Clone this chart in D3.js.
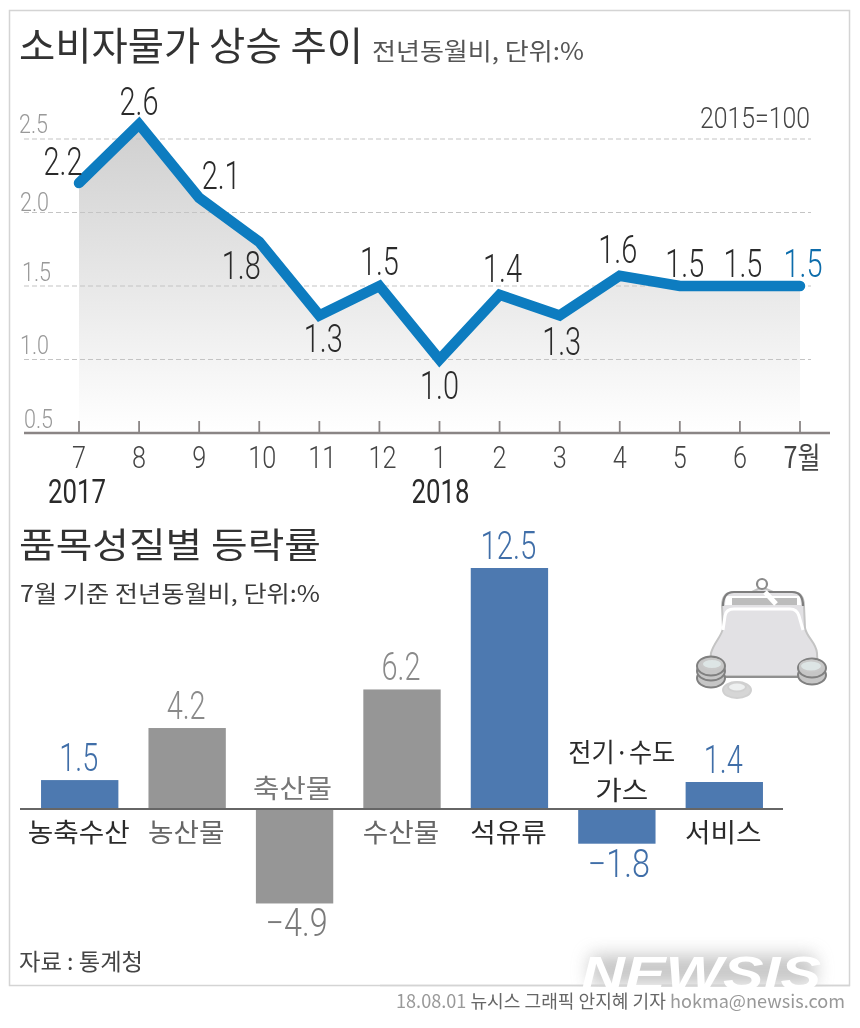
<!DOCTYPE html>
<html><head><meta charset="utf-8">
<script src="https://cdn.jsdelivr.net/npm/d3@7/dist/d3.min.js"></script>
<style>html,body{margin:0;padding:0;background:#fff}svg{display:block}text{font-family:"Noto Sans CJK KR","Noto Sans",sans-serif}</style>
</head><body><svg id="c" width="860" height="1028"></svg>
<script>
const months=["7","8","9","10","11","12","1","2","3","4","5","6","7월"];
// printed labels, as written in the picture
const cpiLabels=[2.2,2.6,2.1,1.8,1.3,1.5,1.0,1.4,1.3,1.6,1.5,1.5,1.5];
// line heights as drawn in the picture (the source plots Feb and Apr 2018 slightly off their printed labels)
const cpiDrawn=[2.2,2.6,2.1,1.8,1.3,1.5,1.0,1.44,1.3,1.57,1.5,1.5,1.5];
const yTicks=[0.5,1.0,1.5,2.0,2.5];
const yearLabels=[{i:0,t:"2017",d:-2},{i:6,t:"2018",d:1}];
const cats=["농축수산","농산물","축산물","수산물","석유류","전기·수도\n가스","서비스"];
const vals=[1.5,4.2,-4.9,6.2,12.5,-1.8,1.4];
const barColors=["#4d79b0","#969696","#969696","#969696","#4d79b0","#4d79b0","#4d79b0"];
const valColors=["#3f6ea8","#8a8a8a","#7a7a7a","#8a8a8a","#3f6ea8","#3f6ea8","#3f6ea8"];
const catColors=["#2b2b2b","#666","#777","#666","#2b2b2b","#2b2b2b","#2b2b2b"];
const labelOffsets=[[-16,-8],[0,-9],[22,-9],[-18,37],[4,37],[0,-11],[0,39],[3,-13],[2,40],[-2,-13],[5,-9],[3,-9],[3,-9]];
const tickBaseOffset=[-5,-6,-5,-2,-6];
const tickX=[24,20,22,20,19];

const svg=d3.select("#c");
const defs=svg.append("defs");
const root=svg.append("g").attr("filter","url(#soft)");
defs.append("filter").attr("id","soft").attr("x",0).attr("y",0).attr("width",1).attr("height",1)
  .append("feGaussianBlur").attr("stdDeviation",0.6);
const grad=defs.append("linearGradient").attr("id","fade").attr("x1",0).attr("x2",0).attr("y1",0).attr("y2",1);
grad.append("stop").attr("offset",0).attr("stop-color","#cfcfcf");
grad.append("stop").attr("offset",1).attr("stop-color","#ffffff");
const wm=defs.append("filter").attr("id","glow").attr("x","-20%").attr("y","-60%").attr("width","140%").attr("height","220%");
wm.append("feGaussianBlur").attr("stdDeviation",9);

root.append("rect").attr("width",860).attr("height",1028).attr("fill","#fff");
root.append("rect").attr("x",9.5).attr("y",10.5).attr("width",840).attr("height",975)
  .attr("fill","#fff").attr("stroke","#d4d4d4").attr("stroke-width",1.5);

const t=(x,y,s,size,fill,anchor,extra)=>{const e=root.append("text").attr("x",x).attr("y",y).text(s)
  .attr("font-size",size).attr("fill",fill).attr("text-anchor",anchor||"start");
  if(extra)Object.entries(extra).forEach(([k,v])=>e.attr(k,v));return e;};
const fit=w=>({textLength:w,lengthAdjust:"spacingAndGlyphs"});
const num=(w,wt)=>({textLength:w,lengthAdjust:"spacingAndGlyphs",style:`font-family:Roboto;font-weight:${wt||300}`});

t(19,60,"소비자물가 상승 추이",39,"#333","start",fit(344));
t(372,60,"전년동월비, 단위:%",24,"#555","start",fit(212));
t(810,128,"2015=100",30,"#444","end",num(110));

// line chart
const x=d3.scalePoint().domain(d3.range(months.length)).range([79,800]);
const y=d3.scaleLinear().domain([0.5,2.5]).range([433,139]);
const area=d3.area().x((d,i)=>x(i)).y0(y(0.5)).y1(d=>y(d));
root.append("path").datum(cpiDrawn).attr("d",area).attr("fill","url(#fade)");
yTicks.slice(1).forEach(v=>root.append("line").attr("x1",24).attr("x2",811).attr("y1",y(v)).attr("y2",y(v))
  .attr("stroke","#c4c4c4").attr("stroke-width",1.2).attr("stroke-dasharray","5 3"));
yTicks.forEach((v,i)=>t(tickX[i],y(v)+tickBaseOffset[i],d3.format(".1f")(v),26,"#999","start",num(29)));

root.append("line").attr("x1",24).attr("x2",830).attr("y1",y(0.5)).attr("y2",y(0.5)).attr("stroke","#8a8585").attr("stroke-width",2.4);
months.forEach((m,i)=>{
  root.append("line").attr("x1",x(i)).attr("x2",x(i)).attr("y1",421).attr("y2",433).attr("stroke","#8a8585").attr("stroke-width",1.8);
  if(i==12) t(x(i)+2,468,m,30,"#444","middle",fit(37));
  else t(x(i)+(m.length>1?3:0),468,m,32,"#444","middle",num(m.length*14));
});
yearLabels.forEach(d=>t(x(d.i)+d.d,503,d.t,34,"#2a2a2a","middle",num(58,400)));

const line=d3.line().x((d,i)=>x(i)).y(d=>y(d));
root.append("path").datum(cpiDrawn).attr("d",line).attr("fill","none").attr("stroke","#0a7cc0")
  .attr("stroke-width",10.5).attr("stroke-linejoin","miter").attr("stroke-linecap","round");
cpiLabels.forEach((v,i)=>t(x(i)+labelOffsets[i][0],y(cpiDrawn[i])+labelOffsets[i][1],d3.format(".1f")(v),38,i==12?"#0a6cab":"#2a2a2a","middle",num(39)));

// bars
t(19,558,"품목성질별 등락률",35,"#333","start",fit(302));
t(20,602,"7월 기준 전년동월비, 단위:%",23,"#3a3a3a","start",fit(300));
const bx=d3.scaleBand().domain(d3.range(cats.length)).range([26,778]).paddingInner(0.28).paddingOuter(0.14);
const by=d3.scaleLinear().domain([0,12.5]).range([809,568]);
root.append("g").selectAll("rect").data(vals).join("rect")
  .attr("x",(d,i)=>bx(i)).attr("width",bx.bandwidth())
  .attr("y",d=>Math.min(by(d),by(0))).attr("height",d=>Math.abs(by(d)-by(0)))
  .attr("fill",(d,i)=>barColors[i]);
root.append("line").attr("x1",20).attr("x2",783).attr("y1",by(0)).attr("y2",by(0)).attr("stroke","#666").attr("stroke-width",2);
vals.forEach((v,i)=>{
  const cx=bx(i)+bx.bandwidth()/2;
  const s=(v<0?"−":"")+d3.format(".1f")(Math.abs(v));
  const yy=v>=0?by(v)-9:by(v)+33;
  t(cx+(v<0?2:-1),yy,s,38,valColors[i],"middle",num(v<0?62:(s.length>3?56:39)));
  const parts=cats[i].split("\n");
  if(parts.length>1){
    t(cx+5,762,parts[0],26,catColors[i],"middle",fit(107));
    t(cx+5,800,parts[1],26,catColors[i],"middle",fit(53));
  } else if(v<0){
    t(cx-2,798,parts[0],26,catColors[i],"middle",fit(79));
  } else {
    t(cx-1,842,parts[0],26,catColors[i],"middle",fit(parts[0].length*25.5));
  }
});

// purse illustration
const p=root.append("g");
p.append("path").attr("d","M709 676 L711 653 C714 642 722 636 723 628 L722 606 Q722 592 734 592 L752 592 L762 587 L773 592 L792 592 Q804 592 804 606 L805 628 C807 638 816 642 817 653 L818 676 Z")
  .attr("fill","#e2e1e4").attr("stroke","#c4c4c4").attr("stroke-width",2);
p.append("path").attr("d","M726 596 L800 596 L801 605 L725 605 Z").attr("fill","#fff");
p.append("rect").attr("x",732).attr("y",598).attr("width",65).attr("height",7).attr("fill","#bcbcbc");
p.append("path").attr("d","M723 630 L725 616 Q726 609 734 609 L790 609 Q797 609 799 616 L803 630").attr("fill","none").attr("stroke","#fff").attr("stroke-width",3);
p.append("path").attr("d","M723 606 Q723 592 734 592 L792 592 Q803 592 803 606").attr("fill","none").attr("stroke","#7e7e7e").attr("stroke-width",2.2);
p.append("line").attr("x1",714).attr("y1",677).attr("x2",812).attr("y2",677).attr("stroke","#909090").attr("stroke-width",2.2);
p.append("circle").attr("cx",762).attr("cy",584).attr("r",5).attr("fill","#fff").attr("stroke","#8b8b8b").attr("stroke-width",2.2);
p.append("line").attr("x1",765).attr("y1",592).attr("x2",776).attr("y2",604).attr("stroke","#fff").attr("stroke-width",5);
const coin=(cx,cy,rx,ry,f,s)=>p.append("ellipse").attr("cx",cx).attr("cy",cy).attr("rx",rx).attr("ry",ry).attr("fill",f).attr("stroke",s).attr("stroke-width",2);
[[711,678],[711,671],[711,666]].forEach(d=>coin(d[0],d[1],14,9.5,"#c6c6c6","#808080"));
coin(712,664,10,5,"#dde5e5","#c9c9c9");
[[812,675],[812,668]].forEach(d=>coin(d[0],d[1],14,9.5,"#c6c6c6","#808080"));
coin(811,666,11,5.5,"#dde5e5","#c9c9c9");
coin(737,690,14,8,"#d6d6d6","#d0d0d0");
coin(737,687,9,4.5,"#eef0f0","#d0d0d0");

t(19,970,"자료 : 통계청",23,"#444","start",fit(124));

// watermark
root.append("rect").attr("x",590).attr("y",955).attr("width",225).attr("height",30).attr("fill","#999").attr("opacity",0.55).attr("filter","url(#glow)");
root.append("rect").attr("x",380).attr("y",987).attr("width",480).attr("height",41).attr("fill","#fff");
root.append("line").attr("x1",380).attr("x2",850).attr("y1",985.5).attr("y2",985.5).attr("stroke","#d4d4d4").attr("stroke-width",1.5);
root.append("text").attr("x",701).attr("y",990).text("NEWSIS")
 .attr("font-size",49).attr("font-weight",700).attr("font-style","italic").attr("fill","#fff")
 .attr("text-anchor","middle").attr("textLength",240).attr("lengthAdjust","spacingAndGlyphs").style("font-family","Liberation Sans");
const foot=t(845,1008,"",18,"#666","end",fit(449));
foot.append("tspan").text("18.08.01 ").attr("fill","#999");
foot.append("tspan").text("뉴시스 그래픽 안지혜 기자 ");
foot.append("tspan").text("hokma@newsis.com").attr("fill","#999");
</script></body></html>
